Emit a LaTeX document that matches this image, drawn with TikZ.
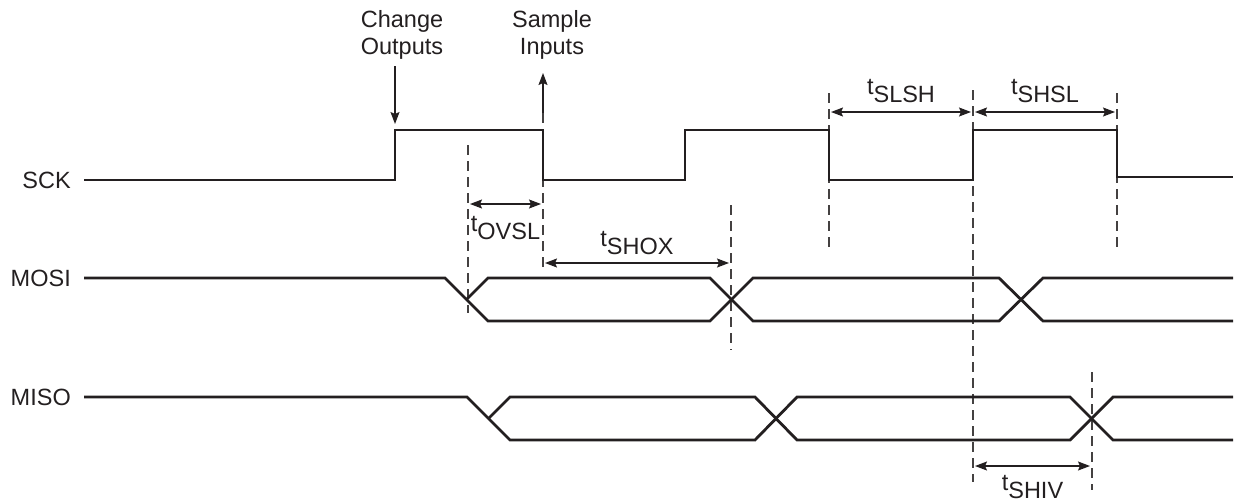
\documentclass[tikz,border=0pt]{standalone}
\usepackage{fontspec}
\setmainfont{Liberation Sans}
\usepackage{tikz}
\usetikzlibrary{arrows.meta, positioning}
\definecolor{ink}{RGB}{35,31,32}
\newcommand\sigfont{\fontsize{23.5}{27}\selectfont}
\newcommand\tsub[1]{t\raisebox{-8pt}{#1}}

\begin{document}
\begin{tikzpicture}[
        x=1pt, y=-1pt,
        every node/.style = {font=\sigfont, inner sep=0pt, text=ink},
        sig/.style = {draw=ink, line width=2.8pt, line join=miter},
        guide/.style = {draw=ink!85, line width=1.4pt, dash pattern=on 10pt off 6pt},
        dim/.style = {{Stealth[length=12pt, width=9pt, inset=2pt]}-{Stealth[length=12pt, width=9pt, inset=2pt]}, draw=ink, line width=1.3pt, shorten <=2pt, shorten >=2pt},
        pointer/.style = {-{Stealth[length=12pt, width=9pt, inset=2pt]}, draw=ink, line width=1.3pt},
        tlabel/.style = {align=center}
    ]
    \useasboundingbox (0,0) rectangle (1236,501);

    % signal names
    \node[anchor=east] (sck) at (71,180) {SCK};
    \node[anchor=east] (mosi) at (71,278) {MOSI};
    \node[anchor=east] (miso) at (71,397) {MISO};

    % events
    \node[tlabel, anchor=south] (chg) at (402,60) {Change\\Outputs};
    \node[tlabel, anchor=south] (smp) at (552,60) {Sample\\Inputs};
    \coordinate (chg-to) at (395,124);
    \coordinate (smp-from) at (543,113);
    \draw[pointer] (chg.south -| chg-to) ++(0,6) -- (chg-to);
    \draw[pointer, shorten >=13pt] (smp-from) -- (smp.south -| smp-from);

    % guides
    \draw[guide] (468,145) -- (468,313);
    \draw[guide] (543,113) -- (543,270);
    \draw[guide] (731,205) -- (731,350);
    \draw[guide] (829,93) -- (829,247);
    \draw[guide] (973,90) -- (973,482);
    \draw[guide] (1117,93) -- (1117,247);
    \draw[guide] (1092,372) -- (1092,490);

    % SCK
    \draw[sig] ([xshift=13pt]sck.east) -- (395,180) -- (395,130) -- (543,130) -- (543,180) -- (685,180) -- (685,130)
        -- (829,130) -- (829,180) -- (973,180) -- (973,130) -- (1117,130) -- (1117,177) -- (1233,177);

    % MOSI
    \draw[sig] ([xshift=13pt]mosi.east) -- (445,278) -- (488,321) -- (710,321) -- (753,278) -- (999,278) -- (1043,321) -- (1233,321);
    \draw[sig] (466.5,299.5) -- (488,278) -- (710,278) -- (753,321) -- (999,321) -- (1043,278) -- (1233,278);

    % MISO
    \draw[sig] ([xshift=13pt]miso.east) -- (467,397) -- (510,440) -- (755,440) -- (797,397) -- (1070,397) -- (1113,440) -- (1233,440);
    \draw[sig] (488.5,418.5) -- (510,397) -- (755,397) -- (797,440) -- (1070,440) -- (1113,397) -- (1233,397);

    % timing parameters
    \coordinate (ovsl-l) at (468,204);
    \coordinate (ovsl-r) at (543,204);
    \coordinate (shox-l) at (543,263);
    \coordinate (shox-r) at (731,263);
    \coordinate (slsh-l) at (829,112);
    \coordinate (slsh-r) at (973,112);
    \coordinate (shsl-l) at (973,112);
    \coordinate (shsl-r) at (1117,112);
    \coordinate (shiv-l) at (973,466);
    \coordinate (shiv-r) at (1092,466);

    \draw[dim] (ovsl-l) -- node[below=12pt] {\tsub{OVSL}} (ovsl-r);
    \draw[dim] (shox-l) -- node[above=8pt] {\tsub{SHOX}} (shox-r);
    \draw[dim] (slsh-l) -- node[above=9pt] {\tsub{SLSH}} (slsh-r);
    \draw[dim] (shsl-l) -- node[above=9pt] {\tsub{SHSL}} (shsl-r);
    \draw[dim] (shiv-l) -- node[below=9pt] {\tsub{SHIV}} (shiv-r);
\end{tikzpicture}
\end{document}
